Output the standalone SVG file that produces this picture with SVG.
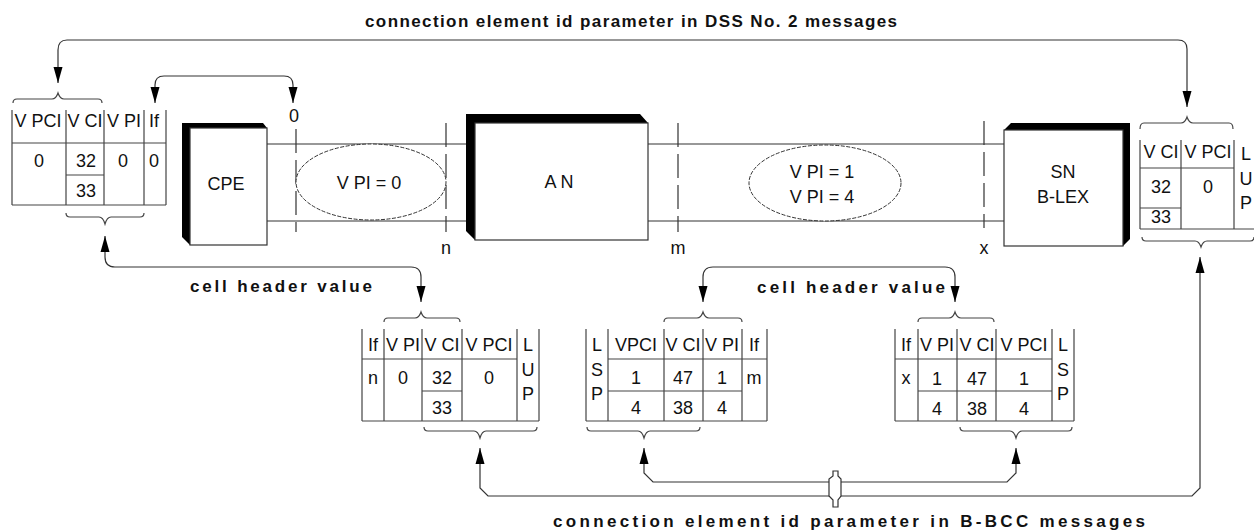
<svg xmlns="http://www.w3.org/2000/svg" width="1254" height="531" viewBox="0 0 1254 531">
<style>
.ln{stroke:#333;stroke-width:1.2;fill:none}
.tb{stroke:#444;stroke-width:1.2;fill:none}
.t{font-family:'Liberation Sans',Arial,sans-serif;font-size:18px;fill:#111;text-anchor:middle}
.lb{font-family:'Liberation Sans Narrow','Liberation Sans',Arial,sans-serif;font-weight:bold;font-size:17px;fill:#111}
.bx{fill:#fff;stroke:#333;stroke-width:1.2}
.sh{fill:#000}
.ell{fill:#fff;stroke:#333;stroke-width:1;stroke-dasharray:4 1.5}
.dm{stroke:#333;stroke-width:1.2;stroke-dasharray:24 7;fill:none}
.pipe{fill:#fff;stroke:#333;stroke-width:1.2}
</style>
<defs>
<marker id="ah" markerUnits="userSpaceOnUse" markerWidth="16" markerHeight="10" refX="16" refY="5" orient="auto-start-reverse"><path d="M0,0.5 L16,5 L0,9.5 z" fill="#000"/></marker>
</defs>
<rect width="1254" height="531" fill="#fff"/>

<g id="link">
<path class="ln" d="M267,144 H466 M267,221 H466 M648,144 H1004 M648,221 H1004"/>
<path class="dm" d="M296,129 V232 M446,123 V232 M678,123 V232 M984,121 V228"/>
<text class="t" x="294" y="122">0</text>
<text class="t" x="446" y="254">n</text>
<text class="t" x="678" y="254">m</text>
<text class="t" x="984" y="254">x</text>
</g>

<g id="vpi0">
<ellipse class="ell" cx="371" cy="182" rx="75" ry="38"/>
<text class="t" x="369" y="189">V PI = 0</text>
</g>
<g id="vpi14">
<ellipse class="ell" cx="825" cy="183" rx="76" ry="38"/>
<text class="t" x="822" y="178">V PI = 1</text>
<text class="t" x="822" y="203">V PI = 4</text>
</g>

<g id="cpe">
<polygon class="sh" points="182,123 263,123 267,128 190,128 190,245 182,237"/>
<rect class="bx" x="190" y="128" width="77" height="117"/>
<text class="t" x="226" y="190">CPE</text>
</g>
<g id="an">
<polygon class="sh" points="466,114 640,114 648,123 475,123 475,240 466,231"/>
<rect class="bx" x="475" y="123" width="173" height="117"/>
<text class="t" x="559" y="188">A N</text>
</g>
<g id="sn">
<polygon class="sh" points="1004,130 1011,123 1130,123 1130,239 1123,246 1123,130"/>
<rect class="bx" x="1004" y="130" width="119" height="116"/>
<text class="t" x="1063" y="178">SN</text>
<text class="t" x="1063" y="203">B-LEX</text>
</g>

<g id="table-cpe">
<path class="tb" d="M12,110 V205 M66,110 V205 M104,110 V205 M144,110 V205 M166,110 V205 M12,143 H166 M66,175 H104 M12,205 H166"/>
<path class="tb" d="M13,103 Q13,99 17,99 H52 Q56,99 58,93 Q60,99 64,99 H98 Q102,99 102,103"/>
<path class="tb" d="M66,213 Q66,217 70,217 H99 Q103,217 105,224 Q107,217 111,217 H140 Q144,217 144,213"/>
<text class="t" x="38" y="127">V PCI</text>
<text class="t" x="85" y="127">V CI</text>
<text class="t" x="124" y="127">V PI</text>
<text class="t" x="154" y="127">If</text>
<text class="t" x="39" y="167">0</text>
<text class="t" x="86" y="167">32</text>
<text class="t" x="123" y="167">0</text>
<text class="t" x="154" y="167">0</text>
<text class="t" x="86" y="197">33</text>
</g>

<g id="table-sn">
<path class="tb" d="M1140,140 V229 M1181,140 V229 M1234,140 V229 M1140,168 H1234 M1140,208 H1181 M1140,229 H1254"/>
<path class="tb" d="M1140,129 Q1140,123 1144,123 H1181 Q1185,123 1187,117 Q1189,123 1193,123 H1229 Q1233,123 1233,129"/>
<path class="tb" d="M1142,237 Q1142,241 1146,241 H1195 Q1199,241 1201,247 Q1203,241 1207,241 H1250 Q1254,241 1254,237"/>
<text class="t" x="1161" y="158">V CI</text>
<text class="t" x="1208" y="158">V PCI</text>
<text class="t" x="1161" y="193">32</text>
<text class="t" x="1208" y="193">0</text>
<text class="t" x="1161" y="223">33</text>
<text class="t" x="1246" y="160">L</text>
<text class="t" x="1246" y="185">U</text>
<text class="t" x="1246" y="209">P</text>
</g>

<g id="table-n">
<path class="tb" d="M362,329 V421 M384,329 V421 M422,329 V421 M462,329 V421 M517,329 V421 M539,329 V421 M362,359 H517 M422,391 H462 M362,421 H539"/>
<path class="tb" d="M384,322 Q384,318 388,318 H415 Q419,318 421,312 Q423,318 427,318 H456 Q460,318 460,322"/>
<path class="tb" d="M424,427 Q424,431 428,431 H474 Q478,431 480,438 Q482,431 486,431 H533 Q537,431 537,427"/>
<text class="t" x="373" y="351">If</text>
<text class="t" x="403" y="351">V PI</text>
<text class="t" x="442" y="351">V CI</text>
<text class="t" x="489" y="351">V PCI</text>
<text class="t" x="528" y="351">L</text>
<text class="t" x="373" y="384">n</text>
<text class="t" x="403" y="384">0</text>
<text class="t" x="442" y="384">32</text>
<text class="t" x="489" y="384">0</text>
<text class="t" x="528" y="376">U</text>
<text class="t" x="442" y="414">33</text>
<text class="t" x="528" y="400">P</text>
</g>

<g id="table-m">
<path class="tb" d="M586,329 V421 M608,329 V421 M664,329 V421 M703,329 V421 M742,329 V421 M767,329 V421 M608,359 H767 M608,391 H742 M586,421 H767"/>
<path class="tb" d="M664,322 Q664,318 668,318 H697 Q701,318 703,312 Q705,318 709,318 H738 Q742,318 742,322"/>
<path class="tb" d="M587,427 Q587,431 591,431 H638 Q642,431 644,438 Q646,431 650,431 H696 Q700,431 700,427"/>
<text class="t" x="597" y="351">L</text>
<text class="t" x="636" y="351">VPCI</text>
<text class="t" x="683" y="351">V CI</text>
<text class="t" x="722" y="351">V PI</text>
<text class="t" x="754" y="351">If</text>
<text class="t" x="597" y="376">S</text>
<text class="t" x="597" y="400">P</text>
<text class="t" x="636" y="384">1</text>
<text class="t" x="683" y="384">47</text>
<text class="t" x="722" y="384">1</text>
<text class="t" x="754" y="384">m</text>
<text class="t" x="636" y="414">4</text>
<text class="t" x="683" y="414">38</text>
<text class="t" x="722" y="414">4</text>
</g>

<g id="table-x">
<path class="tb" d="M895,329 V421 M918,329 V421 M957,329 V421 M996,329 V421 M1052,329 V421 M1074,329 V421 M895,359 H1052 M918,391 H1052 M895,421 H1074"/>
<path class="tb" d="M918,322 Q918,318 922,318 H949 Q953,318 955,312 Q957,318 961,318 H990 Q994,318 994,322"/>
<path class="tb" d="M960,427 Q960,431 964,431 H1010 Q1014,431 1016,438 Q1018,431 1022,431 H1068 Q1072,431 1072,427"/>
<text class="t" x="906" y="351">If</text>
<text class="t" x="937" y="351">V PI</text>
<text class="t" x="977" y="351">V CI</text>
<text class="t" x="1024" y="351">V PCI</text>
<text class="t" x="1063" y="351">L</text>
<text class="t" x="906" y="384">x</text>
<text class="t" x="937" y="385">1</text>
<text class="t" x="977" y="385">47</text>
<text class="t" x="1024" y="385">1</text>
<text class="t" x="1063" y="376">S</text>
<text class="t" x="937" y="415">4</text>
<text class="t" x="977" y="415">38</text>
<text class="t" x="1024" y="415">4</text>
<text class="t" x="1063" y="400">P</text>
</g>

<g id="connectors">
<path class="ln" marker-start="url(#ah)" marker-end="url(#ah)" d="M58,83 V50 Q58,40 67,40 H1178 Q1187,40 1187,49 V107"/>
<path class="ln" marker-start="url(#ah)" marker-end="url(#ah)" d="M155,103 V85 Q155,76 164,76 H284 Q293,76 293,85 V103"/>
<path class="ln" marker-start="url(#ah)" marker-end="url(#ah)" d="M105,236 V257 Q105,267 115,267 H411 Q421,267 421,277 V302"/>
<path class="ln" marker-start="url(#ah)" marker-end="url(#ah)" d="M703,302 V277 Q703,267 713,267 H945 Q955,267 955,277 V302"/>
<path class="ln" marker-start="url(#ah)" marker-end="url(#ah)" d="M480,448 V488 L488,496 H1192 L1200,488 V257"/>
<path class="ln" marker-start="url(#ah)" marker-end="url(#ah)" d="M644,448 V473 L653,482 H1007 L1016,473 V448"/>
<polygon class="pipe" points="833,471 838,471 838,476 841,479 841,496 838,500 838,507 833,507 833,500 829,496 829,479 833,476"/>
</g>

<g id="labels">
<text class="lb" x="365" y="27" textLength="532" lengthAdjust="spacing">connection element id parameter in DSS No. 2 messages</text>
<text class="lb" x="190" y="292" textLength="182" lengthAdjust="spacing">cell header value</text>
<text class="lb" x="757" y="293" textLength="188" lengthAdjust="spacing">cell header value</text>
<text class="lb" x="553" y="527" textLength="592" lengthAdjust="spacing">connection element id parameter in B-BCC messages</text>
</g>
</svg>
